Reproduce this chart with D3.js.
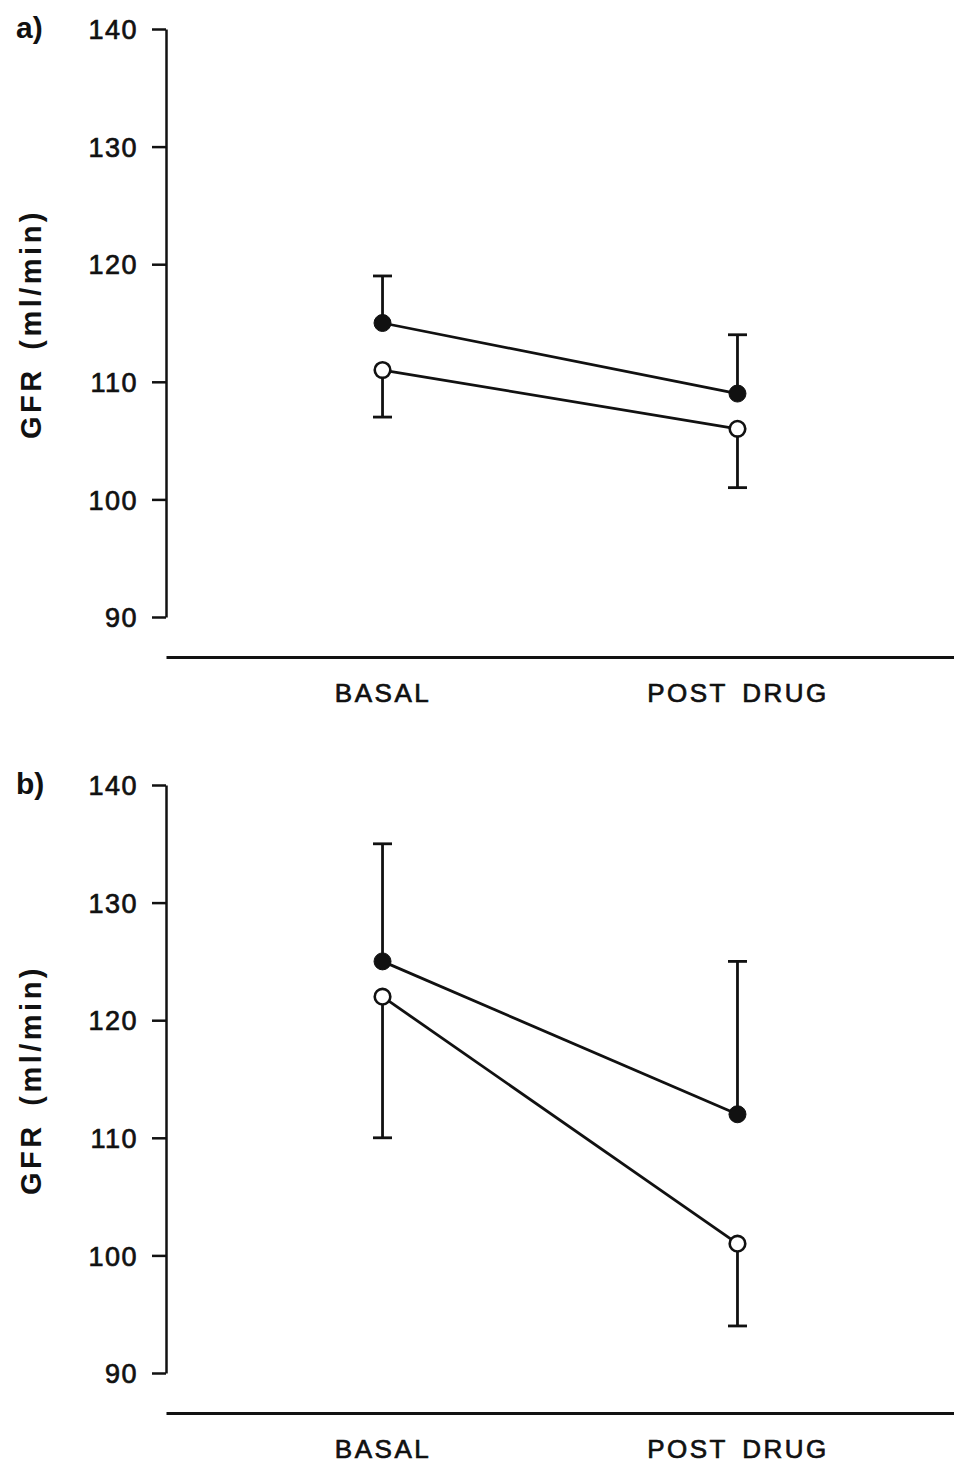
<!DOCTYPE html>
<html>
<head>
<meta charset="utf-8">
<script src="https://cdn.jsdelivr.net/npm/d3@7"></script>
<style>
  body { margin: 0; background: #fff; }
  text { font-family: "Liberation Sans", Arial, sans-serif; fill: #111; }
</style>
</head>
<body>
<svg id="chart" width="954" height="1468"></svg>
<script>
// data
var categories = ["BASAL", "POST DRUG"];
var yTicks = [90, 100, 110, 120, 130, 140];
var panelNames = ["a)", "b)"];

// filled circles (error bar goes up), open circles (error bar goes down)
var filledMeanA = [115, 109];
var filledUpperA = [119, 114];
var openMeanA = [111, 106];
var openLowerA = [107, 101];

var filledMeanB = [125, 112];
var filledUpperB = [135, 125];
var openMeanB = [122, 101];
var openLowerB = [110, 94];

var panels = [
  {name: panelNames[0], top: 0, filled: filledMeanA, upper: filledUpperA, open: openMeanA, lower: openLowerA},
  {name: panelNames[1], top: 756, filled: filledMeanB, upper: filledUpperB, open: openMeanB, lower: openLowerB}
];

var svg = d3.select("#chart");
var ink = "#111";

var x = d3.scalePoint().domain(categories).range([166, 954]).padding(0.61);
var y = d3.scaleLinear().domain([90, 140]).range([617, 29]);

var line = d3.line()
  .x(function(d, i) { return x(categories[i]); })
  .y(function(d) { return y(d); });

panels.forEach(function(p) {
  var g = svg.append("g").attr("transform", "translate(0," + p.top + ")");

  // y axis
  var yAxis = g.append("g")
    .attr("transform", "translate(166,0)")
    .call(d3.axisLeft(y).tickValues(yTicks).tickSize(14).tickSizeOuter(0).tickPadding(14));
  yAxis.selectAll("path, line").attr("stroke", ink).attr("stroke-width", 2.5);
  yAxis.selectAll("text")
    .attr("dy", "0.36em")
    .style("font-size", "27px")
    .style("letter-spacing", "1.5px")
    .attr("fill", ink)
    .attr("stroke", ink).attr("stroke-width", 0.7);

  // x axis: plain line plus labels
  var xAxis = g.append("g")
    .attr("transform", "translate(0,657)")
    .call(d3.axisBottom(x).tickSize(0).tickSizeOuter(0).tickPadding(0));
  xAxis.select(".domain").attr("stroke", ink).attr("stroke-width", 3);
  xAxis.selectAll("text")
    .attr("y", 45)
    .attr("dy", 0)
    .style("font-size", "26px")
    .style("letter-spacing", "2.5px")
    .style("word-spacing", "5px")
    .attr("fill", ink)
    .attr("stroke", ink).attr("stroke-width", 0.7);

  // panel letter
  g.append("text")
    .attr("x", 16).attr("y", 38)
    .style("font-size", "30px")
    .style("font-weight", "bold")
    .text(p.name);

  // y axis title
  g.append("text")
    .attr("transform", "translate(41,324) rotate(-90)")
    .attr("text-anchor", "middle")
    .style("font-size", "29px")
    .style("font-weight", "bold")
    .style("letter-spacing", "3.5px")
    .style("word-spacing", "6px")
    .text("GFR (ml/min)");

  // error bars
  var bars = [];
  p.filled.forEach(function(v, i) { bars.push({c: categories[i], from: v, to: p.upper[i]}); });
  p.open.forEach(function(v, i) { bars.push({c: categories[i], from: v, to: p.lower[i]}); });

  g.selectAll(".err").data(bars).enter().append("line")
    .attr("x1", function(d) { return x(d.c); })
    .attr("x2", function(d) { return x(d.c); })
    .attr("y1", function(d) { return y(d.from); })
    .attr("y2", function(d) { return y(d.to); })
    .attr("stroke", ink).attr("stroke-width", 2.8);
  g.selectAll(".cap").data(bars).enter().append("line")
    .attr("x1", function(d) { return x(d.c) - 9.5; })
    .attr("x2", function(d) { return x(d.c) + 9.5; })
    .attr("y1", function(d) { return y(d.to); })
    .attr("y2", function(d) { return y(d.to); })
    .attr("stroke", ink).attr("stroke-width", 2.8);

  // lines
  g.append("path").datum(p.filled).attr("d", line)
    .attr("fill", "none").attr("stroke", ink).attr("stroke-width", 2.8);
  g.append("path").datum(p.open).attr("d", line)
    .attr("fill", "none").attr("stroke", ink).attr("stroke-width", 2.8);

  // markers
  g.selectAll(".filled").data(p.filled).enter().append("circle")
    .attr("cx", function(d, i) { return x(categories[i]); })
    .attr("cy", function(d) { return y(d); })
    .attr("r", 8.5)
    .attr("fill", ink).attr("stroke", ink).attr("stroke-width", 1);
  g.selectAll(".open").data(p.open).enter().append("circle")
    .attr("cx", function(d, i) { return x(categories[i]); })
    .attr("cy", function(d) { return y(d); })
    .attr("r", 7.8)
    .attr("fill", "#fff").attr("stroke", ink).attr("stroke-width", 2.6);
});
</script>
</body>
</html>
